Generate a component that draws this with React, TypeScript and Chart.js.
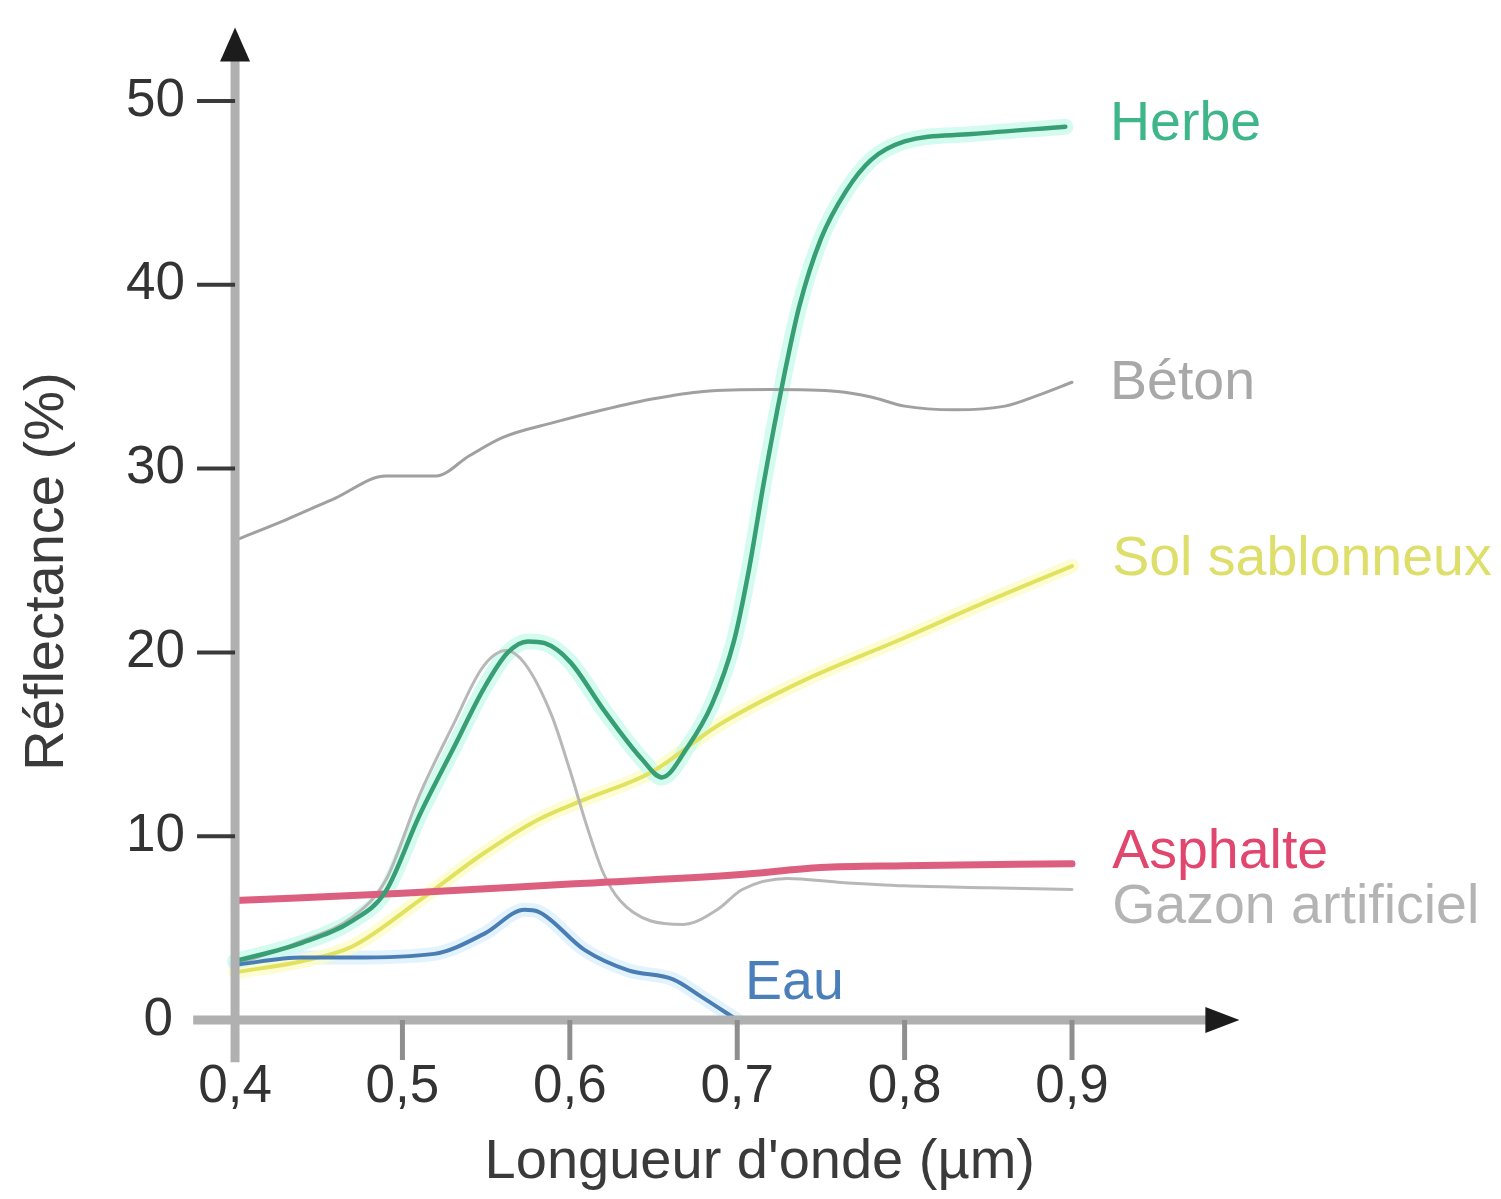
import { useEffect, useRef } from 'react';
import { Chart, registerables } from 'chart.js';

Chart.register(...registerables);

// ---- Axis ticks ----
const xTicks = [0.4, 0.5, 0.6, 0.7, 0.8, 0.9];
const xTickLabels = ['0,4', '0,5', '0,6', '0,7', '0,8', '0,9'];
const yTicks = [0, 10, 20, 30, 40, 50];
const yTickLabels = ['0', '10', '20', '30', '40', '50'];

const xTitle = "Longueur d'onde (µm)";
const yTitle = 'Réflectance (%)';

// ---- Series (wavelength µm, reflectance %) ----
const herbeX = [0.4, 0.44, 0.47, 0.49, 0.51, 0.53, 0.549, 0.563, 0.575, 0.585, 0.6, 0.62, 0.643, 0.655, 0.67, 0.685, 0.698, 0.707, 0.716, 0.727, 0.737, 0.75, 0.765, 0.78, 0.8, 0.84, 0.896];
const herbeY = [3.2, 4.2, 5.4, 7.0, 11.1, 14.7, 18.1, 20.0, 20.6, 20.5, 19.5, 16.9, 14.2, 13.2, 14.8, 17.2, 20.6, 24.5, 29.3, 34.6, 38.8, 42.5, 45.1, 46.8, 47.8, 48.2, 48.6];

const betonX = [0.4, 0.43, 0.46, 0.49, 0.52, 0.54, 0.56, 0.59, 0.62, 0.65, 0.68, 0.72, 0.76, 0.78, 0.8, 0.83, 0.86, 0.88, 0.9];
const betonY = [26.1, 27.2, 28.4, 29.6, 29.6, 30.7, 31.7, 32.5, 33.2, 33.8, 34.2, 34.3, 34.2, 33.9, 33.4, 33.2, 33.4, 34.0, 34.7];

const solX = [0.4, 0.44, 0.47, 0.51, 0.549, 0.581, 0.609, 0.649, 0.688, 0.738, 0.8, 0.85, 0.9];
const solY = [2.6, 3.2, 4.0, 6.5, 9.1, 10.9, 12.0, 13.5, 16.0, 18.4, 20.8, 22.8, 24.7];

const asphalteX = [0.4, 0.5, 0.6, 0.7, 0.75, 0.8, 0.9];
const asphalteY = [6.5, 6.9, 7.4, 7.9, 8.3, 8.4, 8.5];

const gazonX = [0.4, 0.44, 0.47, 0.49, 0.51, 0.53, 0.548, 0.562, 0.573, 0.589, 0.6, 0.61, 0.62, 0.63, 0.648, 0.668, 0.688, 0.703, 0.73, 0.76, 0.8, 0.85, 0.9];
const gazonY = [3.0, 4.3, 5.6, 7.6, 12.2, 16.0, 19.2, 20.1, 19.4, 16.6, 13.6, 10.6, 8.0, 6.5, 5.4, 5.2, 6.0, 7.1, 7.7, 7.5, 7.3, 7.2, 7.1];

const eauX = [0.4, 0.44, 0.47, 0.519, 0.549, 0.573, 0.581, 0.609, 0.635, 0.662, 0.678, 0.7];
const eauY = [3.0, 3.4, 3.4, 3.6, 4.7, 6.0, 5.9, 3.8, 2.7, 2.2, 1.3, 0.0];

// ---- Curve labels (anchored in data coordinates) ----
const labelTexts = ['Herbe', 'Béton', 'Sol sablonneux', 'Asphalte', 'Gazon artificiel', 'Eau'];
const labelX = [0.9227, 0.9227, 0.924, 0.924, 0.924, 0.7047];
const labelY = [48.7, 34.6, 25.05, 9.1, 6.1, 2.0];
const labelColors = ['#3fb58a', '#a8a8a8', '#dede6a', '#e0466e', '#b4b4b4', '#4a7fba'];

const FONT = '"Liberation Sans", Arial, Helvetica, sans-serif';

const pts = (xs: number[], ys: number[]) => xs.map((x, i) => ({ x, y: ys[i] }));

const axesPlugin = {
  id: 'customAxes',
  afterDatasetsDraw(chart: any) {
    const { ctx } = chart;
    const xs = chart.scales.x;
    const ys = chart.scales.y;
    const x0 = xs.getPixelForValue(0.4);
    const y0 = ys.getPixelForValue(0);
    ctx.save();

    // axis lines
    ctx.strokeStyle = '#b0b0b0';
    ctx.lineWidth = 9;
    ctx.lineCap = 'butt';
    ctx.beginPath();
    ctx.moveTo(xs.left, y0);
    ctx.lineTo(xs.right - 28, y0);
    ctx.stroke();
    ctx.beginPath();
    ctx.moveTo(x0, ys.bottom);
    ctx.lineTo(x0, ys.top + 30);
    ctx.stroke();

    // arrow heads
    ctx.fillStyle = '#1c1c1c';
    ctx.beginPath();
    ctx.moveTo(xs.right, y0);
    ctx.lineTo(xs.right - 34, y0 - 13);
    ctx.lineTo(xs.right - 34, y0 + 13);
    ctx.closePath();
    ctx.fill();
    ctx.beginPath();
    ctx.moveTo(x0, ys.top);
    ctx.lineTo(x0 - 15, ys.top + 34);
    ctx.lineTo(x0 + 15, ys.top + 34);
    ctx.closePath();
    ctx.fill();

    // x ticks
    ctx.strokeStyle = '#8e8e8e';
    ctx.lineWidth = 5;
    xTicks.forEach((v) => {
      if (v === 0.4) return;
      const px = xs.getPixelForValue(v);
      ctx.beginPath();
      ctx.moveTo(px, y0);
      ctx.lineTo(px, y0 + 40);
      ctx.stroke();
    });
    // y ticks
    ctx.strokeStyle = '#3a3a3a';
    ctx.lineWidth = 4;
    yTicks.forEach((v) => {
      if (v === 0) return;
      const py = ys.getPixelForValue(v);
      ctx.beginPath();
      ctx.moveTo(x0 - 38, py);
      ctx.lineTo(x0, py);
      ctx.stroke();
    });

    // tick labels
    ctx.fillStyle = '#333333';
    ctx.font = `53px ${FONT}`;
    ctx.textAlign = 'center';
    ctx.textBaseline = 'middle';
    xTicks.forEach((v, i) => {
      ctx.fillText(xTickLabels[i], xs.getPixelForValue(v), y0 + 67);
    });
    ctx.textAlign = 'right';
    yTicks.forEach((v, i) => {
      const px = v === 0 ? x0 - 62 : x0 - 50;
      ctx.fillText(yTickLabels[i], px, ys.getPixelForValue(v));
    });

    // axis titles
    ctx.fillStyle = '#3a3a3a';
    ctx.font = `56px ${FONT}`;
    ctx.textAlign = 'center';
    ctx.fillText(xTitle, xs.getPixelForValue(0.7135), y0 + 143);
    ctx.save();
    ctx.translate(x0 - 187, ys.getPixelForValue(24.4));
    ctx.rotate(-Math.PI / 2);
    ctx.fillText(yTitle, 0, 0);
    ctx.restore();

    // curve labels
    ctx.font = `55.5px ${FONT}`;
    ctx.textAlign = 'left';
    labelTexts.forEach((t, i) => {
      ctx.fillStyle = labelColors[i];
      ctx.fillText(t, xs.getPixelForValue(labelX[i]), ys.getPixelForValue(labelY[i]));
    });

    ctx.restore();
  },
};

export default function App() {
  const ref = useRef<HTMLCanvasElement | null>(null);

  useEffect(() => {
    if (!ref.current) return;
    const line = (data: any, color: string, width: number, order: number) => ({
      data,
      borderColor: color,
      backgroundColor: color,
      borderWidth: width,
      pointRadius: 0,
      pointHoverRadius: 0,
      fill: false,
      tension: 0.4,
      cubicInterpolationMode: 'monotone' as const,
      borderCapStyle: 'round' as const,
      borderJoinStyle: 'round' as const,
      order,
    });
    const chart = new Chart(ref.current, {
      type: 'line',
      data: {
        datasets: [
          { ...line(pts(herbeX, herbeY), 'rgba(200,250,236,0.8)', 16, 20), label: 'halo-herbe' },
          { ...line(pts(solX, solY), 'rgba(252,252,200,0.8)', 14, 21), label: 'halo-sol' },
          { ...line(pts(eauX, eauY), 'rgba(220,240,252,0.8)', 14, 22), label: 'halo-eau' },
          { ...line(pts(betonX, betonY), '#a0a0a0', 3, 6), label: 'Béton' },
          { ...line(pts(solX, solY), '#e2e260', 4, 5), label: 'Sol sablonneux' },
          { ...line(pts(gazonX, gazonY), '#b8b8b8', 3, 4), label: 'Gazon artificiel' },
          { ...line(pts(asphalteX, asphalteY), '#dd5f7f', 7, 3), label: 'Asphalte' },
          { ...line(pts(eauX, eauY), '#4a7db3', 4, 2), label: 'Eau' },
          { ...line(pts(herbeX, herbeY), '#389f74', 4.5, 1), label: 'Herbe' },
        ],
      },
      options: {
        animation: false,
        responsive: false,
        devicePixelRatio: 1,
        layout: { padding: { left: 185.2, right: 253.6, top: 19.5, bottom: 128.7 } },
        plugins: { legend: { display: false }, tooltip: { enabled: false }, title: { display: false } },
        events: [],
        scales: {
          x: { type: 'linear', min: 0.375, max: 1.0, display: false },
          y: { type: 'linear', min: -2.3, max: 54, display: false },
        },
      },
      plugins: [axesPlugin],
    });
    return () => chart.destroy();
  }, []);

  return (
    <canvas
      ref={ref}
      width={1485}
      height={1183}
      style={{ display: 'block', width: '1485px', height: '1183px' }}
    />
  );
}
